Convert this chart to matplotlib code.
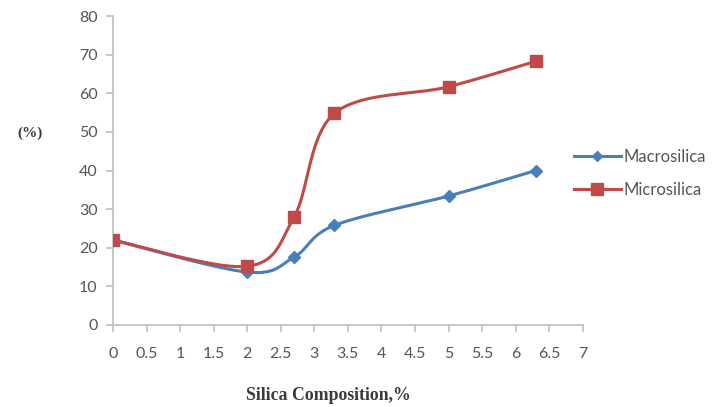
import numpy as np
import matplotlib
matplotlib.use("Agg")
import matplotlib.pyplot as plt
from matplotlib.lines import Line2D

# Silica content (%) and measured response (%)
silica = [0, 2, 2.7, 3.3, 5, 6.3]
macrosilica = [22, 13.7, 17.6, 25.8, 33.4, 40.0]
microsilica = [22, 15.2, 28.0, 54.8, 61.7, 68.3]

x_ticks = [0, 0.5, 1, 1.5, 2, 2.5, 3, 3.5, 4, 4.5, 5, 5.5, 6, 6.5, 7]
x_tick_labels = ["0", "0.5", "1", "1.5", "2", "2.5", "3", "3.5", "4", "4.5",
                 "5", "5.5", "6", "6.5", "7"]
y_ticks = [0, 10, 20, 30, 40, 50, 60, 70, 80]

BLUE = "#4a7ebb"
RED = "#be4b48"
GREY = "#555555"
AXIS = "#bfbfbf"


def smooth(xs, ys, n=40):
    """Spreadsheet-style smoothed line: cubic Bezier segments whose control
    points follow the neighbouring points (Catmull-Rom, tension 1/6)."""
    xs = np.asarray(xs, float)
    ys = np.asarray(ys, float)
    pts = np.column_stack([xs, ys])
    out = [pts[0:1]]
    t = np.linspace(0, 1, n)[1:, None]
    for i in range(len(pts) - 1):
        p0 = pts[i - 1] if i > 0 else pts[i]
        p1 = pts[i]
        p2 = pts[i + 1]
        p3 = pts[i + 2] if i + 2 < len(pts) else pts[i + 1]
        c1 = p1 + (p2 - p0) / 6.0
        c2 = p2 - (p3 - p1) / 6.0
        seg = ((1 - t) ** 3) * p1 + 3 * ((1 - t) ** 2) * t * c1 \
            + 3 * (1 - t) * t ** 2 * c2 + t ** 3 * p2
        out.append(seg)
    curve = np.vstack(out)
    return curve[:, 0], curve[:, 1]


fig = plt.figure(figsize=(7.15, 4.07), dpi=100)
ax = fig.add_axes([0.158, 0.2015, 0.657, 0.759])

for ys, color, marker, ms in [(macrosilica, BLUE, "D", 6),
                              (microsilica, RED, "s", 9)]:
    sx, sy = smooth(silica, ys)
    ax.plot(sx, sy, color=color, lw=2.2, solid_capstyle="round", zorder=2)
    ax.plot(silica, ys, ls="none", marker=marker, ms=ms, color=color,
            markeredgecolor=color, zorder=3)

ax.set_xlim(0, 7)
ax.set_ylim(0, 80)
ax.set_xticks(x_ticks)
ax.set_xticklabels(x_tick_labels)
ax.set_yticks(y_ticks)

for side in ("top", "right"):
    ax.spines[side].set_visible(False)
for side in ("left", "bottom"):
    ax.spines[side].set_color(AXIS)
    ax.spines[side].set_linewidth(1.2)

ax.tick_params(axis="both", direction="out", length=5, width=1.2,
               color=AXIS, labelcolor=GREY, labelsize=11.5)
ax.tick_params(axis="x", pad=11)
ax.tick_params(axis="y", pad=6)
for lab in ax.get_xticklabels() + ax.get_yticklabels():
    lab.set_family("Lato")

fig.text(0.042, 0.673, "(%)", family="Liberation Serif", fontsize=11,
         fontweight="bold", color="#3a3a3a", ha="center", va="center")
fig.text(0.459, 0.029, "Silica Composition,%", family="Liberation Serif",
         fontsize=12.8, fontweight="bold", color="#3a3a3a",
         ha="center", va="center")

handles = [
    Line2D([], [], color=BLUE, lw=2.2, marker="D", ms=5, markeredgecolor=BLUE),
    Line2D([], [], color=RED, lw=2.2, marker="s", ms=8, markeredgecolor=RED),
]
leg = fig.legend(handles, ["Macrosilica", "Microsilica"],
                 loc="center left", bbox_to_anchor=(0.782, 0.574),
                 frameon=False, handlelength=2.8, handletextpad=0.15,
                 labelspacing=1.0, prop={"family": "Lato", "size": 12})
for txt in leg.get_texts():
    txt.set_color(GREY)

fig.savefig("out.png", dpi=100)
